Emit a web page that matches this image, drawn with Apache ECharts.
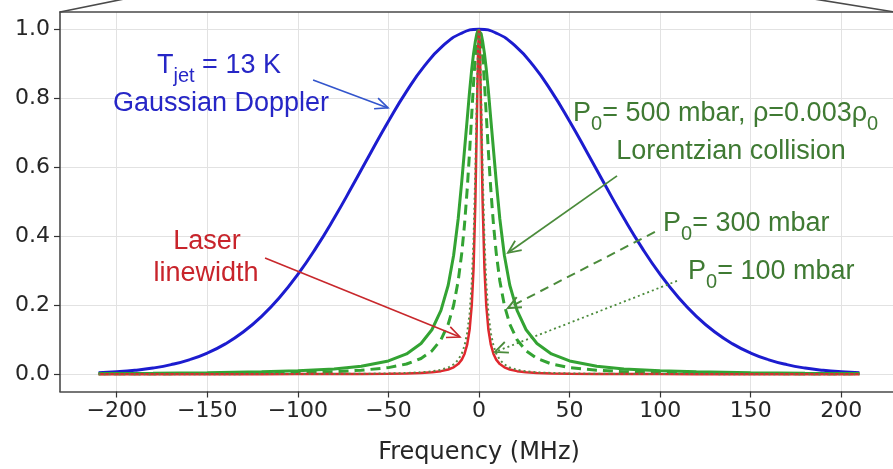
<!DOCTYPE html>
<html><head><meta charset="utf-8">
<script src="https://cdn.jsdelivr.net/npm/echarts@6/dist/echarts.min.js"></script>
<style>html,body{margin:0;padding:0;background:#fff;overflow:hidden}#c{width:893px;height:469px}</style>
</head><body><div id="c"></div>
<script>
const freqTicks = [-200, -150, -100, -50, 0, 50, 100, 150, 200];
const ampTicks = [0, 0.2, 0.4, 0.6, 0.8, 1.0];

// Gaussian Doppler profile (T_jet = 13 K)
const dopplerX = [-210,-200,-190,-180,-170,-160,-150,-140,-130,-120,-110,-100,-90,-80,-70,-60,-50,-40,-30,-20,-10,0,10,20,30,40,50,60,70,80,90,100,110,120,130,140,150,160,170,180,190,200,210];
const dopplerY = [0.0042,0.0070,0.0114,0.0180,0.0278,0.0418,0.0614,0.0880,0.1230,0.1677,0.2230,0.2894,0.3663,0.4522,0.5447,0.6400,0.7334,0.8200,0.8944,0.9516,0.9877,1.0,0.9877,0.9516,0.8944,0.8200,0.7334,0.6400,0.5447,0.4522,0.3663,0.2894,0.2230,0.1677,0.1230,0.0880,0.0614,0.0418,0.0278,0.0180,0.0114,0.0070,0.0042];

// Narrow profiles, common frequency grid
const narrowX = [-210,-180,-150,-120,-100,-80,-65,-50,-40,-32,-26,-21,-17,-14,-11.5,-9.5,-8,-6.5,-5.2,-4,-3,-2,-1.2,-0.5,0,0.5,1.2,2,3,4,5.2,6.5,8,9.5,11.5,14,17,21,26,32,40,50,65,80,100,120,150,180,210];
const collision500 = [0.0023,0.0031,0.0044,0.0069,0.0099,0.0154,0.0231,0.0385,0.0588,0.089,0.129,0.185,0.258,0.345,0.45,0.56,0.65,0.74,0.82,0.885,0.93,0.965,0.987,0.997,1.0,0.997,0.987,0.965,0.93,0.885,0.82,0.74,0.65,0.56,0.45,0.345,0.258,0.185,0.129,0.089,0.0588,0.0385,0.0231,0.0154,0.0099,0.0069,0.0044,0.0031,0.0023];
const collision300 = [0.0011,0.0015,0.0022,0.0034,0.0049,0.0076,0.0115,0.0192,0.0297,0.0457,0.0676,0.1,0.145,0.2,0.2703,0.3519,0.4336,0.537,0.6444,0.7538,0.8448,0.9245,0.9714,0.9949,1.0,0.9949,0.9714,0.9245,0.8448,0.7538,0.6444,0.537,0.4336,0.3519,0.2703,0.2,0.145,0.1,0.0676,0.0457,0.0297,0.0192,0.0115,0.0076,0.0049,0.0034,0.0022,0.0015,0.0011];
const collision100 = [0.0001,0.0002,0.0003,0.0004,0.0006,0.0009,0.0014,0.0023,0.0036,0.0056,0.0084,0.0129,0.0195,0.0285,0.0417,0.06,0.0826,0.12,0.1756,0.2647,0.3902,0.5902,0.8,0.9584,1.0,0.9584,0.8,0.5902,0.3902,0.2647,0.1756,0.12,0.0826,0.06,0.0417,0.0285,0.0195,0.0129,0.0084,0.0056,0.0036,0.0023,0.0014,0.0009,0.0006,0.0004,0.0003,0.0002,0.0001];
const laserLine = [0.0001,0.0001,0.0002,0.0003,0.0004,0.0006,0.0009,0.0016,0.0025,0.0039,0.0059,0.009,0.0137,0.02,0.0294,0.0424,0.0588,0.0865,0.1289,0.2,0.3077,0.5,0.7353,0.9412,1.0,0.9412,0.7353,0.5,0.3077,0.2,0.1289,0.0865,0.0588,0.0424,0.0294,0.02,0.0137,0.009,0.0059,0.0039,0.0025,0.0016,0.0009,0.0006,0.0004,0.0003,0.0002,0.0001,0.0001];

// annotation arrows: [tail, tip] in data coordinates
const arrowDoppler = [[-91.6, 0.853], [-50.2, 0.772]];
const arrow500 = [[76.2, 0.575], [16.0, 0.352]];
const arrow300 = [[97.1, 0.4125], [16.0, 0.192]];
const arrow100 = [[109.3, 0.2704], [8.8, 0.0646]];
const arrowLaser = [[-118.1, 0.337], [-10.5, 0.108]];

const X_MIN = -231.3, X_MAX = 231.3, Y_MIN = -0.05, Y_MAX = 1.05;
const pair = (xs, ys) => xs.map((x, i) => [x, ys[i]]);
const BLUE = '#1c1ccf', GREEN = '#33a333', RED = '#e0282e';
const FRAME_LINE = {color: '#4a4a4a', width: 1.6};

const chart = echarts.init(document.getElementById('c'), null, {renderer: 'canvas'});
const tickFont = {fontFamily: 'DejaVu Sans', fontSize: 22, color: '#262626'};
const option = {
  animation: false,
  backgroundColor: '#ffffff',
  grid: {left: 60, top: 12, width: 838, height: 379.5, outerBoundsMode: 'none', containLabel: false, show: false},
  xAxis: [{
    type: 'value', min: X_MIN, max: X_MAX, position: 'bottom',
    axisLine: {show: true, onZero: false, lineStyle: FRAME_LINE},
    axisTick: {show: true, length: 6, lineStyle: {color: '#333', width: 1.2}, customValues: freqTicks},
    axisLabel: Object.assign({customValues: freqTicks, margin: 9, formatter: v => v < 0 ? '\u2212' + Math.abs(v) : String(v)}, tickFont),
    splitLine: {show: true, lineStyle: {color: '#e2e2e2', width: 1}},
    name: 'Frequency (MHz)', nameLocation: 'middle', nameGap: 49,
    nameTextStyle: {fontFamily: 'DejaVu Sans', fontSize: 24, color: '#262626'}
  }, {
    type: 'value', min: X_MIN, max: X_MAX, position: 'top',
    axisLine: {show: true, onZero: false, lineStyle: FRAME_LINE},
    axisTick: {show: false}, axisLabel: {show: false}, splitLine: {show: false}
  }],
  yAxis: {
    type: 'value', min: Y_MIN, max: Y_MAX,
    axisLine: {show: true, onZero: false, lineStyle: FRAME_LINE},
    axisTick: {show: true, length: 6, lineStyle: {color: '#333', width: 1.2}, customValues: ampTicks},
    axisLabel: Object.assign({customValues: ampTicks, margin: 10, formatter: v => v.toFixed(1)}, tickFont),
    splitLine: {show: true, lineStyle: {color: '#e2e2e2', width: 1}}
  },
  series: [
    {type: 'line', data: pair(dopplerX, dopplerY), smooth: true, symbol: 'none', lineStyle: {color: BLUE, width: 3}, z: 2},
    {type: 'line', data: pair(narrowX, collision500), smooth: false, symbol: 'none', lineStyle: {color: GREEN, width: 3}, z: 3},
    {type: 'line', data: pair(narrowX, collision300), smooth: false, symbol: 'none', lineStyle: {color: GREEN, width: 3, type: [10, 6]}, z: 4},
    {type: 'line', data: pair(narrowX, laserLine), smooth: false, symbol: 'none', lineStyle: {color: RED, width: 2.5}, z: 5},
    {type: 'line', data: pair(narrowX, collision100), smooth: false, symbol: 'none', lineStyle: {color: '#5a8a45', width: 2, type: [2, 3]}, z: 6}
  ]
};
chart.setOption(option);

const px = p => chart.convertToPixel({xAxisIndex: 0, yAxisIndex: 0}, p);
function arrow(seg, color, dash, width) {
  const a = px(seg[0]), b = px(seg[1]);
  const ang = Math.atan2(a[1] - b[1], a[0] - b[0]);
  const L = 14, h = 0.42;
  const p1 = [b[0] + L * Math.cos(ang + h), b[1] + L * Math.sin(ang + h)];
  const p2 = [b[0] + L * Math.cos(ang - h), b[1] + L * Math.sin(ang - h)];
  return [
    {type: 'line', silent: true, z: 40, shape: {x1: a[0], y1: a[1], x2: b[0], y2: b[1]}, style: {stroke: color, lineWidth: width, lineDash: dash}},
    {type: 'polyline', silent: true, z: 40, shape: {points: [p1, b, p2]}, style: {stroke: color, lineWidth: width, fill: null}}
  ];
}
const ctx = document.createElement('canvas').getContext('2d');
const FONT = '"Liberation Sans", Arial, sans-serif';
const MAIN = 27, SUB = 20;
function tw(t, size) { ctx.font = size + 'px ' + FONT; return ctx.measureText(t).width; }
function label(parts, x, y, align, color) {
  const widths = parts.map(p => tw(p[0], p[1] ? SUB : MAIN));
  const total = widths.reduce((s, v) => s + v, 0);
  let cx = align === 'center' ? x - total / 2 : x;
  return parts.map((p, i) => {
    const el = {type: 'text', silent: true, z: 50, x: cx, y: y + (p[1] ? 10 : 0),
      style: {text: p[0], font: (p[1] ? SUB : MAIN) + 'px ' + FONT, fill: color, align: 'left', verticalAlign: 'middle'}};
    cx += widths[i];
    return el;
  });
}
const tl = px([X_MIN, Y_MAX]);
const W = chart.getWidth();
const FRAME = {stroke: '#4a4a4a', lineWidth: 1.6};
const BLUE_T = '#2626c6', GREEN_T = '#3f7a33', RED_T = '#c8242b';
const graphics = [].concat(
  [{type: 'line', silent: true, z: 60, shape: {x1: tl[0], y1: tl[1], x2: 124, y2: -1}, style: FRAME},
   {type: 'line', silent: true, z: 60, shape: {x1: 814, y1: -1, x2: W, y2: tl[1] - 0.3}, style: FRAME}],
  arrow(arrowDoppler, '#3355cc', null, 1.6),
  arrow(arrow500, '#4b8b3b', null, 1.8),
  arrow(arrow300, '#4b8b3b', [9, 6], 2),
  arrow(arrow100, '#4b8b3b', [2, 3], 1.8),
  arrow(arrowLaser, '#c8282c', null, 1.6),
  label([['T', 0], ['jet', 1], [' = 13 K', 0]], 157, 66, 'left', BLUE_T),
  label([['Gaussian Doppler', 0]], 221, 104, 'center', BLUE_T),
  label([['P', 0], ['0', 1], ['= 500 mbar, \u03c1=0.003\u03c1', 0], ['0', 1]], 573, 114, 'left', GREEN_T),
  label([['Lorentzian collision', 0]], 731, 152, 'center', GREEN_T),
  label([['P', 0], ['0', 1], ['= 300 mbar', 0]], 663, 224, 'left', GREEN_T),
  label([['P', 0], ['0', 1], ['= 100 mbar', 0]], 688, 272, 'left', GREEN_T),
  label([['Laser', 0]], 207, 242, 'center', RED_T),
  label([['linewidth', 0]], 206, 274, 'center', RED_T)
);
chart.setOption({graphic: graphics});
</script>
</body></html>
